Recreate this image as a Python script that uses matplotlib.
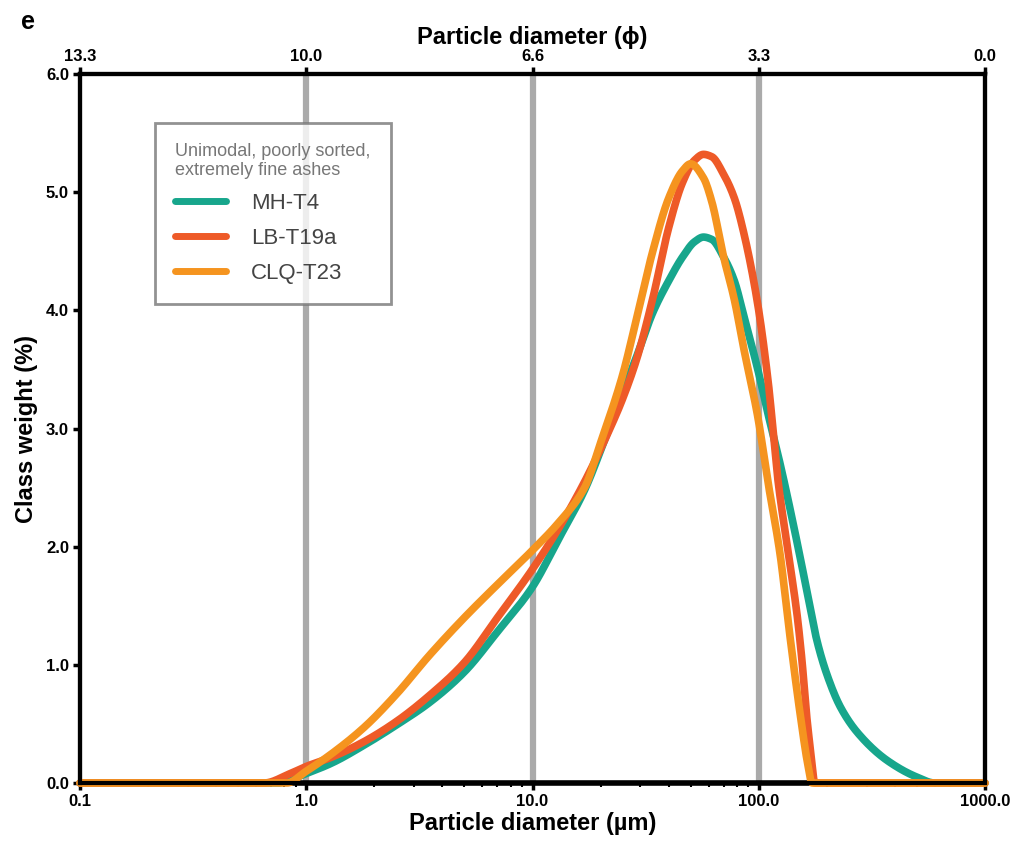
import matplotlib
matplotlib.use("Agg")
import matplotlib.pyplot as plt
import numpy as np
from matplotlib.ticker import FixedLocator, NullFormatter, LogLocator

plt.rcParams['font.family'] = ['Liberation Sans', 'DejaVu Sans']

# ---- data ----
diam_teal = [0.1, 0.5, 0.75, 0.85, 1, 1.3, 1.8, 2.5, 3.5, 5, 7, 10, 13, 17, 21, 25, 29, 34, 40,
             46, 52, 57, 62, 70, 78, 86, 99, 110, 125, 140, 155, 170, 180, 200, 230, 275, 370, 500, 600, 1000]
mh_t4 = [0, 0, 0, 0.03, 0.08, 0.17, 0.32, 0.49, 0.68, 0.94, 1.28, 1.66, 2.06, 2.48, 2.92, 3.3, 3.62, 3.98, 4.25,
         4.45, 4.58, 4.62, 4.6, 4.45, 4.25, 3.95, 3.5, 3.12, 2.68, 2.25, 1.84, 1.45, 1.22, 0.92, 0.64, 0.42, 0.19, 0.05, 0.0, 0]

diam_red = [0.1, 0.5, 0.65, 0.85, 1, 1.3, 1.8, 2.5, 3.5, 5, 7, 10, 13, 17, 22, 25, 29, 34, 40,
            46, 52, 57, 62, 70, 78, 86, 99, 110, 122, 135, 148, 155, 163, 170, 177, 1000]
lb_t19a = [0, 0, 0.0, 0.08, 0.14, 0.22, 0.35, 0.52, 0.74, 1.02, 1.40, 1.81, 2.15, 2.55, 3.0, 3.25, 3.6, 4.1, 4.7,
           5.08, 5.27, 5.32, 5.3, 5.15, 4.95, 4.65, 4.05, 3.4, 2.54, 1.95, 1.41, 1.05, 0.56, 0.25, 0.0, 0]

diam_orange = [0.1, 0.7, 0.82, 1, 1.3, 1.8, 2.5, 3.5, 5, 7, 10, 13, 17, 20, 25, 29, 34, 40,
               46, 50, 57, 62, 70, 78, 86, 99, 110, 125, 134, 153, 165, 172, 1000]
clq_t23 = [0, 0, 0.0, 0.1, 0.25, 0.47, 0.75, 1.08, 1.40, 1.68, 1.97, 2.2, 2.5, 2.88, 3.45, 3.95, 4.5, 4.95,
           5.18, 5.24, 5.12, 4.92, 4.45, 4.09, 3.67, 3.1, 2.54, 1.9, 1.41, 0.56, 0.15, 0.0, 0]

series = [("MH-T4", diam_teal, mh_t4, "#17a68c"),
          ("LB-T19a", diam_red, lb_t19a, "#ee5a28"),
          ("CLQ-T23", diam_orange, clq_t23, "#f5941f")]

x_ticks = [0.1, 1, 10, 100, 1000]
x_ticklabels = ["0.1", "1.0", "10.0", "100.0", "1000.0"]
phi_ticklabels = ["13.3", "10.0", "6.6", "3.3", "0.0"]
y_ticks = [0, 1, 2, 3, 4, 5, 6]
y_ticklabels = ["0.0", "1.0", "2.0", "3.0", "4.0", "5.0", "6.0"]


def pchip(x, y, xn):
    """Monotone cubic rendering of the line through the read points."""
    x = np.asarray(x, float); y = np.asarray(y, float)
    h = np.diff(x); delta = np.diff(y) / h
    d = np.zeros_like(y)
    for k in range(1, len(x) - 1):
        if delta[k - 1] * delta[k] > 0:
            w1 = 2 * h[k] + h[k - 1]; w2 = h[k] + 2 * h[k - 1]
            d[k] = (w1 + w2) / (w1 / delta[k - 1] + w2 / delta[k])
    d[0] = delta[0]; d[-1] = delta[-1]
    idx = np.clip(np.searchsorted(x, xn) - 1, 0, len(x) - 2)
    t = (xn - x[idx]) / h[idx]
    h00 = 2 * t**3 - 3 * t**2 + 1; h10 = t**3 - 2 * t**2 + t
    h01 = -2 * t**3 + 3 * t**2; h11 = t**3 - t**2
    return h00 * y[idx] + h10 * h[idx] * d[idx] + h01 * y[idx + 1] + h11 * h[idx] * d[idx + 1]


fig = plt.figure(figsize=(10.19, 8.47), dpi=100)
ax = fig.add_axes([80/1019, 1-783/847, (985-80)/1019, (783-74)/847])

ax.set_xscale("log")
ax.set_xlim(0.1, 1000)
ax.set_ylim(0, 6)

for xg in [1, 10, 100]:
    ax.axvline(xg, color="#aaaaaa", lw=4.5, zorder=1)

for name, d, v, c in series:
    lx = np.log10(d)
    xs = np.linspace(lx[0], lx[-1], 1500)
    ys = np.clip(pchip(lx, v, xs), 0, None)
    ax.plot(10**xs, ys, color=c, lw=5.5, label=name, zorder=3,
            solid_capstyle="round", solid_joinstyle="round", clip_on=False)

ax.set_xticks(x_ticks)
ax.set_xticklabels(x_ticklabels, fontsize=12, fontweight="bold")
ax.xaxis.set_minor_locator(LogLocator(base=10, subs=range(2, 10)))
ax.xaxis.set_minor_formatter(NullFormatter())
ax.tick_params(axis="x", which="major", length=5, width=2.5, direction="out", pad=3)
ax.tick_params(axis="x", which="minor", length=3, width=1.5, direction="out")
ax.set_yticks(y_ticks)
ax.set_yticklabels(y_ticklabels, fontsize=12, fontweight="bold")
ax.tick_params(axis="y", length=5, width=2.5, direction="out", pad=3)

for s in ax.spines.values():
    s.set_linewidth(3)
    s.set_color("black")
ax.spines["bottom"].set_linewidth(4)

ax.set_xlabel("Particle diameter (µm)", fontsize=17, fontweight="bold", labelpad=2)
ax.set_ylabel("Class weight (%)", fontsize=17, fontweight="bold", labelpad=6)

ax2 = ax.twiny()
ax2.set_xscale("log")
ax2.set_xlim(0.1, 1000)
ax2.set_xticks(x_ticks)
ax2.set_xticklabels(phi_ticklabels, fontsize=12, fontweight="bold")
ax2.xaxis.set_minor_locator(FixedLocator([]))
ax2.tick_params(axis="x", which="major", length=5, width=2.5, direction="out", pad=2)
ax2.set_xlabel("Particle diameter (ϕ)", fontsize=17, fontweight="bold", labelpad=4)
for s in ax2.spines.values():
    s.set_linewidth(3)

leg = ax.legend(loc="upper left", bbox_to_anchor=(0.071, 0.947),
                title="Unimodal, poorly sorted,\nextremely fine ashes",
                fontsize=16, title_fontsize=13, frameon=True, fancybox=False,
                edgecolor="#777777", handlelength=2.3, handletextpad=1.1,
                borderpad=0.9, labelspacing=0.62)
leg.get_frame().set_linewidth(2)
leg._legend_box.align = "left"
leg.get_title().set_color("#777777")
for t in leg.get_texts():
    t.set_color("#444444")
for l in leg.get_lines():
    l.set_linewidth(5)

fig.text(28/1019, 1-22/847, "e", fontsize=18, fontweight="bold", ha="center", va="center")

fig.savefig("out.png", dpi=100)
